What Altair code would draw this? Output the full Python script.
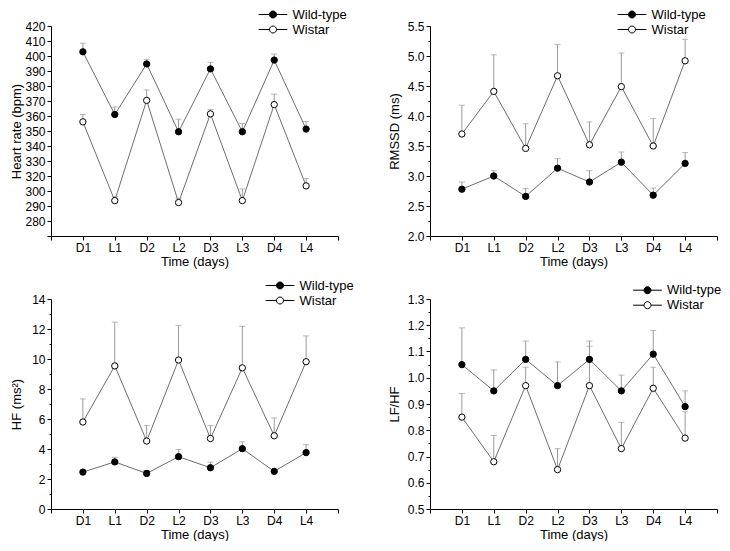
import json
import altair as alt
import pandas as pd

categories = ["D1", "L1", "D2", "L2", "D3", "L3", "D4", "L4"]
series_names = ["Wild-type", "Wistar"]

# Heart rate (bpm): mean and upper error (SEM)
hr_wt = [402.8, 361.0, 394.7, 349.5, 391.4, 349.5, 397.3, 351.3]
hr_wt_err = [5.7, 5.0, 3.1, 8.4, 4.4, 5.5, 4.0, 5.0]
hr_wi = [356.1, 293.6, 370.4, 292.3, 361.4, 293.6, 367.6, 306.8]
hr_wi_err = [4.9, 2.7, 6.9, 2.9, 2.9, 9.2, 7.0, 9.7]

# RMSSD (ms)
rmssd_wt = [2.78, 3.00, 2.66, 3.13, 2.90, 3.23, 2.68, 3.21]
rmssd_wt_err = [0.12, 0.09, 0.13, 0.16, 0.19, 0.17, 0.12, 0.18]
rmssd_wi = [3.70, 4.41, 3.46, 4.67, 3.52, 4.49, 3.50, 4.92]
rmssd_wi_err = [0.48, 0.61, 0.41, 0.52, 0.38, 0.56, 0.46, 0.36]

# HF (ms^2)
hf_wt = [2.46, 3.14, 2.37, 3.49, 2.75, 4.02, 2.51, 3.76]
hf_wt_err = [0.10, 0.31, 0.20, 0.47, 0.37, 0.46, 0.10, 0.53]
hf_wi = [5.80, 9.54, 4.53, 9.93, 4.70, 9.41, 4.88, 9.82]
hf_wi_err = [1.54, 2.92, 1.03, 2.31, 0.86, 2.77, 1.19, 1.72]

# LF/HF
lfhf_wt = [1.05, 0.95, 1.07, 0.97, 1.07, 0.95, 1.09, 0.89]
lfhf_wt_err = [0.14, 0.08, 0.07, 0.09, 0.07, 0.06, 0.09, 0.06]
lfhf_wi = [0.85, 0.68, 0.97, 0.65, 0.97, 0.73, 0.96, 0.77]
lfhf_wi_err = [0.09, 0.10, 0.07, 0.08, 0.15, 0.10, 0.08, 0.10]

FONT = "Liberation Sans"
LINE = "#6e6e6e"
ERR = "#9a9a9a"
W, H = 287, 210
LEGEND_PATH = "M-4.1,0L-1,0M1,0L4.1,0M-1,0A1,1,0,1,1,1,0A1,1,0,1,1,-1,0Z"

x_label_expr = json.dumps([""] + categories + [""]) + "[datum.value]"


def x_axis():
    return alt.Axis(
        values=list(range(len(categories) + 2)),
        labelExpr=x_label_expr,
        title="Time (days)",
        grid=False,
        tickSize=4,
        labelPadding=2,
        titlePadding=2,
        labelFlush=False,
        labelOverlap=False,
        labelFont=FONT, labelFontSize=12, labelColor="black",
        titleFont=FONT, titleFontSize=13, titleFontWeight="normal", titleColor="black",
        domainColor="black", tickColor="black",
    )


def y_axis(title, values, label_expr, tick_size, title_x):
    return alt.Axis(
        title=title,
        values=values,
        labelExpr=label_expr,
        grid=False,
        tickSize=tick_size,
        labelPadding=2,
        labelOverlap=False,
        labelFlush=False,
        titleX=title_x,
        titleBaseline="middle",
        labelFont=FONT, labelFontSize=12, labelColor="black",
        titleFont=FONT, titleFontSize=13, titleFontWeight="normal", titleColor="black",
        domainColor="black", tickColor="black",
    )


def panel(wt, wt_err, wi, wi_err, yscale, yaxis, legend_x, legend_y):
    n = len(categories)
    df = pd.DataFrame({
        "x": list(range(1, n + 1)) * 2,
        "series": [series_names[0]] * n + [series_names[1]] * n,
        "mean": wt + wi,
        "upper": [m + e for m, e in zip(wt, wt_err)] + [m + e for m, e in zip(wi, wi_err)],
    })
    base = alt.Chart(df)
    X = alt.X("x:Q", scale=alt.Scale(domain=[0, n + 1], nice=False, zero=False), axis=x_axis())
    Y = alt.Y("mean:Q", scale=yscale, axis=yaxis)
    YU = alt.Y("upper:Q", scale=yscale, axis=yaxis)
    line = base.mark_line(color=LINE, strokeWidth=1).encode(x=X, y=Y, detail="series:N")
    err = base.mark_rule(color=ERR, strokeWidth=1).encode(x=X, y=Y, y2="upper:Q")
    cap = base.mark_tick(orient="horizontal", color=ERR, size=6, thickness=1).encode(
        x=X, y=YU)
    pts = base.mark_point(shape="circle", filled=True, size=40, stroke="black",
                          strokeWidth=1, opacity=1).encode(
        x=X, y=Y,
        fill=alt.Fill("series:N",
                      scale=alt.Scale(domain=series_names, range=["black", "white"]),
                      legend=alt.Legend(
                          title=None, orient="none", legendX=legend_x, legendY=legend_y,
                          symbolType=LEGEND_PATH, symbolSize=49,
                          symbolStrokeColor="black", symbolStrokeWidth=1,
                          labelFont=FONT, labelFontSize=13, labelColor="black",
                          labelOffset=13, rowPadding=1, padding=0,
                      )),
    )
    return alt.layer(line, err, cap, pts).properties(width=W, height=H)


# Panel 1: heart rate (axis labels 320 -> 300 skip, as in the figure)
hr_ticks = [270, 280, 290, 300] + list(range(320, 421, 10))
p1 = panel(
    hr_wt, hr_wt_err, hr_wi, hr_wi_err,
    alt.Scale(domain=[270, 300, 320, 420], range=[H, H - 3 * H / 14, H - 4 * H / 14, 0]),
    y_axis("Heart rate (bpm)", hr_ticks, "datum.value == 270 ? '' : datum.value", 4, -35),
    215.5, -18,
)

rm_ticks = [2.0 + 0.25 * i for i in range(15)]
rm_major = "abs(datum.value*2 - round(datum.value*2)) < 1e-6"
p2 = panel(
    rmssd_wt, rmssd_wt_err, rmssd_wi, rmssd_wi_err,
    alt.Scale(domain=[2.0, 5.5], nice=False, zero=False),
    y_axis("RMSSD (ms)", rm_ticks, rm_major + " ? format(datum.value, '.1f') : ''",
           {"condition": {"test": rm_major, "value": 4}, "value": 2}, -36),
    195.5, -18,
)

hf_ticks = list(range(0, 15))
hf_major = "datum.value % 2 == 0"
p3 = panel(
    hf_wt, hf_wt_err, hf_wi, hf_wi_err,
    alt.Scale(domain=[0, 14], nice=False, zero=False),
    y_axis("HF (ms²)", hf_ticks, hf_major + " ? datum.value : ''",
           {"condition": {"test": hf_major, "value": 4}, "value": 2}, -35),
    222.5, -20,
)

lf_ticks = [round(0.5 + 0.05 * i, 2) for i in range(17)]
lf_major = "abs(datum.value*10 - round(datum.value*10)) < 1e-6"
p4 = panel(
    lfhf_wt, lfhf_wt_err, lfhf_wi, lfhf_wi_err,
    alt.Scale(domain=[0.5, 1.3], nice=False, zero=False),
    y_axis("LF/HF", lf_ticks, lf_major + " ? format(datum.value, '.1f') : ''",
           {"condition": {"test": lf_major, "value": 4}, "value": 2}, -36),
    211, -15.3,
)

chart = alt.concat(
    p1, p2, p3, p4, columns=2, bounds="flush",
    spacing={"row": 63, "column": 92},
).resolve_scale(fill="independent").resolve_legend(fill="independent").properties(
    padding={"left": 2, "top": 0, "right": 0, "bottom": 0}, background="white"
).configure_view(strokeWidth=0)

chart.save("out.html", embed_options={"renderer": "svg", "actions": False})
